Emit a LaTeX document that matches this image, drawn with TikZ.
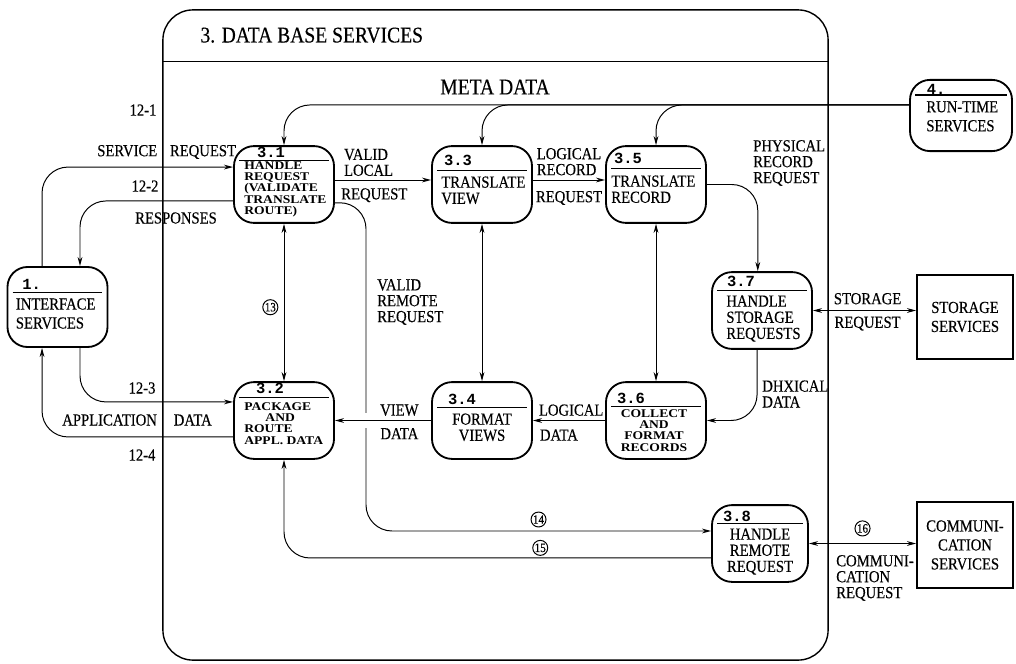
\documentclass[tikz,border=0pt]{standalone}
\usepackage{fontspec}
\setmainfont{Liberation Serif}[FakeStretch=0.87, FakeBold=0.3]
\newfontfamily\widefont{Liberation Serif}[FakeStretch=1.15]
\newfontfamily\numfont{Liberation Mono}
\usetikzlibrary{arrows.meta, positioning, calc}

\tikzset{
  >={Stealth[length=6.5pt, width=3.4pt]},
  proc/.style={draw, line width=1.3pt, rounded corners=0.5cm, minimum width=2.5cm,
    minimum height=1.92cm, inner sep=0pt},
  ext/.style={draw, line width=1.3pt, minimum width=2.4cm, inner sep=0pt, align=center,
    font=\fontsize{12}{13.5}\selectfont},
  flow/.style={->, line width=0.7pt, rounded corners=0.65cm},
  both/.style={<->, line width=0.7pt},
  rule/.style={line width=0.8pt},
  num/.style={font=\numfont\bfseries\fontsize{11}{11}\selectfont, inner sep=0pt},
  body/.style={font=\fontsize{12}{11.5}\selectfont, align=left, inner sep=0pt},
  svc/.style={body, font=\fontsize{12}{13.5}\selectfont},
  tiny/.style={font=\widefont\bfseries\fontsize{8.4}{8}\selectfont, align=left, inner sep=0pt},
  lbl/.style={font=\fontsize{12}{11.3}\selectfont, align=left, inner sep=0pt},
  title/.style={font=\fontsize{16}{16}\selectfont, inner sep=0pt},
  circnum/.style={circle, draw, line width=0.7pt, inner sep=0.3pt,
    font=\fontsize{9}{9}\selectfont},
}

\begin{document}
\begin{tikzpicture}[x=0.025cm, y=-0.025cm]
\useasboundingbox (0,0) rectangle (1016,663);

% frame of process 3
\node[draw, line width=1pt, rounded corners=0.75cm, minimum width=16.625cm,
  minimum height=16.25cm, inner sep=0pt] (dbs) at (495.5,335) {};
\draw[line width=0.8pt] ($(dbs.north west)+(0,52)$) -- ($(dbs.north east)+(0,52)$);
\node[title, anchor=west] (dbt) at ($(dbs.north west)+(38,26)$) {3. DATA BASE SERVICES};
\node[title] (meta) at (495,87) {META DATA};

% processes and outside services
\node[proc] (p31) at (284,184.5) {};
\node[proc] (p33) at (482,184.5) {};
\node[proc] (p35) at (656,184.5) {};
\node[proc] (p37) at (762,310.5) {};
\node[proc] (p32) at (284,420.5) {};
\node[proc] (p34) at (482,420.5) {};
\node[proc] (p36) at (656,420.5) {};
\node[proc, minimum width=2.4cm] (p38) at (760,543.5) {};
\node[proc, minimum height=2cm] (p1) at (57.5,307) {};
\node[proc, minimum width=2.55cm, minimum height=1.78cm] (p4) at (961,115.5) {};
\node[ext, minimum height=2.1cm] (stor) at (965,317) {STORAGE\\SERVICES};
\node[ext, minimum height=2.15cm] (comm) at (965,545) {COMMUNI-\\CATION\\SERVICES};

% numbers over the rules
\node[num] at ($(p31.north west)+(38,7)$) {3.1};
\node[num] at ($(p32.north west)+(37,7)$) {3.2};
\node[num] at ($(p33.north west)+(27,15)$) {3.3};
\node[num] at ($(p35.north west)+(23,13)$) {3.5};
\node[num] at ($(p37.north west)+(30,10)$) {3.7};
\node[num] at ($(p34.north west)+(31,18)$) {3.4};
\node[num] at ($(p36.north west)+(26,17)$) {3.6};
\node[num] at ($(p38.north west)+(26,12)$) {3.8};
\node[num] at ($(p1.north west)+(25,18)$) {1.};
\node[num] at ($(p4.north west)+(27,10)$) {4.};
\foreach \b/\d in {p31/15, p32/16, p33/25, p35/23, p37/19, p34/26, p36/25, p38/19, p1/26, p4/16}
  \draw[rule] ($(\b.north west)+(6,\d)$) -- ($(\b.north east)+(-6,\d)$);

% process names
\node[tiny, anchor=north west] at ($(p31.north west)+(11,16)$) {HANDLE\\REQUEST\\(VALIDATE\\TRANSLATE\\ROUTE)};
\node[tiny, anchor=north west] at ($(p32.north west)+(11,21)$) {PACKAGE\\\hspace*{15pt}AND\\ROUTE\\APPL. DATA};
\node[body, anchor=north west] at ($(p33.north west)+(10,31)$) {TRANSLATE\\VIEW};
\node[body, anchor=north west] at ($(p35.north west)+(6,30)$) {TRANSLATE\\RECORD};
\node[body, anchor=north west] at ($(p37.north west)+(15,24)$) {HANDLE\\STORAGE\\REQUESTS};
\node[body, anchor=north, align=center] at ($(p34.north)+(0,32)$) {FORMAT\\VIEWS};
\node[tiny, anchor=north, align=center] at ($(p36.north)+(-2,28)$) {COLLECT\\AND\\FORMAT\\RECORDS};
\node[body, anchor=north, align=center] at ($(p38.north)+(0,24)$) {HANDLE\\REMOTE\\REQUEST};
\node[svc, anchor=north west] at ($(p1.north west)+(9,32)$) {INTERFACE\\SERVICES};
\node[svc, anchor=north west] at ($(p4.north west)+(17,22)$) {RUN-TIME\\SERVICES};

% meta data feeds
\draw[flow] ([yshift=7.5pt]p4.west) -| (p31.north);
\draw[flow] ([yshift=7.5pt]p4.west) -| (p33.north);
\draw[flow] ([yshift=7.5pt]p4.west) -| (p35.north);

% interface services
\draw[flow] ([xshift=-11pt]p1.north) |- ([yshift=12.4pt]p31.west);
\draw[flow] ([yshift=-11.7pt]p31.west) -| ([xshift=16pt]p1.north);
\draw[flow] ([xshift=16pt]p1.south) |- ([yshift=13.2pt]p32.west);
\draw[flow] ([yshift=-11.7pt]p32.west) -| ([xshift=-11pt]p1.south);
\node[lbl] at (143,110) {12-1};
\node[lbl, anchor=west] at (97,152) {SERVICE\hspace{9pt}REQUEST};
\node[lbl] at (145,186) {12-2};
\node[lbl] at (176,218) {RESPONSES};
\node[lbl] at (142,388) {12-3};
\node[lbl, anchor=west] at (62,420) {APPLICATION\hspace{12pt}DATA};
\node[lbl] at (142,455) {12-4};

% local request path
\draw[flow] ([yshift=3.2pt]p31.east) -- node[lbl, above=2.5pt, pos=.35] {VALID\\LOCAL}
  node[lbl, below=5.5pt, pos=.41] {REQUEST} ([yshift=3.2pt]p33.west);
\draw[flow] ([yshift=3.2pt]p33.east) -- node[lbl, above=3pt] {LOGICAL\\RECORD}
  node[lbl, below=7.5pt] {REQUEST} ([yshift=3.2pt]p35.west);
\draw[flow] (p35.east) -| ([xshift=-3pt]p37.north);
\node[lbl, anchor=west] at (753,163) {PHYSICAL\\RECORD\\REQUEST};
\draw[both] (p37.east) -- node[lbl, above=4pt, pos=.53, align=center] {STORAGE}
  node[lbl, below=4pt, pos=.53] {REQUEST} (p37.east -| stor.west);
\draw[flow] ([xshift=-3.5pt]p37.south) |- (p36.east);
\node[lbl, anchor=west] at (762,394) {DHXICAL\\DATA};
\draw[flow] (p36.west) -- node[lbl, above=3pt, pos=.47] {LOGICAL}
  node[lbl, below=6pt, pos=.64] {DATA} (p34.east);
\draw[both] (p31) -- node[circnum, left=4pt, pos=.53] {13} (p32);
\draw[both] (p33) -- (p34);
\draw[both] (p35) -- (p36);

% remote request path
\coordinate (rbend) at (366,531);
\draw[flow] ([yshift=-13pt]p31.east) -| (rbend) -- node[circnum, above=2.5pt] {14} ([yshift=8.9pt]p38.west);
\node[lbl, anchor=west] at (377,302) {VALID\\REMOTE\\REQUEST};
\draw[flow, preaction={draw=white, -, line width=11pt, shorten <=15pt, shorten >=15pt}]
  (p34.west) -- node[lbl, above=3pt, pos=.33] {VIEW} node[lbl, below=5pt, pos=.33] {DATA} (p32.east);
\draw[flow] ([yshift=-10.3pt]p38.west) -| node[circnum, above=1.5pt, pos=.2] {15} (p32.south);
\draw[both] (p38.east) -- node[circnum, above=5pt] {16} (p38.east -| comm.west);
\node[lbl, anchor=west] at (836,578) {COMMUNI-\\CATION\\REQUEST};
\end{tikzpicture}
\end{document}
